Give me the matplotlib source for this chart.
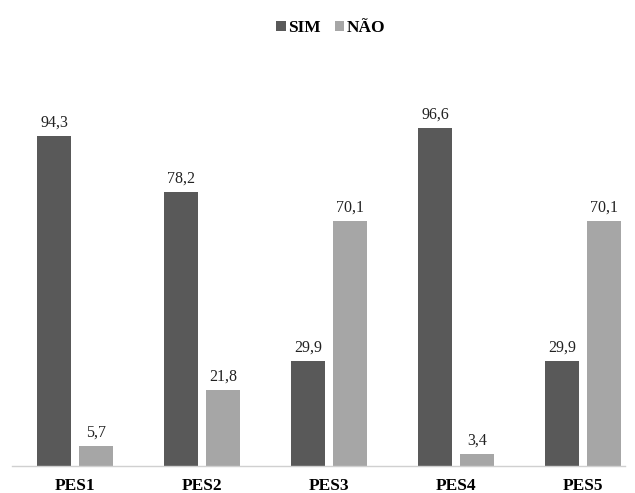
import matplotlib
matplotlib.use("Agg")
import matplotlib.pyplot as plt
import numpy as np

categories = ["PES1", "PES2", "PES3", "PES4", "PES5"]
sim = [94.3, 78.2, 29.9, 96.6, 29.9]
nao = [5.7, 21.8, 70.1, 3.4, 70.1]
sim_labels = ["94,3", "78,2", "29,9", "96,6", "29,9"]
nao_labels = ["5,7", "21,8", "70,1", "3,4", "70,1"]

plt.rcParams['font.family'] = ['Liberation Serif', 'DejaVu Serif']

fig = plt.figure(figsize=(6.35, 4.93), dpi=100)
left_px, right_px = 11.5, 625
ax = fig.add_axes([left_px/635, 1 - 466/493, (right_px-left_px)/635, 350/493])

x = np.arange(len(categories))
w = 0.268
off = 0.165
dark = "#595959"
light = "#a6a6a6"
b1 = ax.bar(x - off, sim, width=w, color=dark, label="SIM")
b2 = ax.bar(x + off, nao, width=w, color=light, label="NÃO")

for xi, v, t in zip(x, sim, sim_labels):
    ax.text(xi - off, v + 1.5, t, ha="center", va="bottom", fontsize=11.5, color="#222222")
for xi, v, t in zip(x, nao, nao_labels):
    ax.text(xi + off, v + 1.5, t, ha="center", va="bottom", fontsize=11.5, color="#222222")

ax.set_xlim(-0.5, -0.5 + (right_px - left_px) / 127)
ax.set_ylim(0, 100)
ax.set_yticks([])
ax.set_xticks(x)
ax.set_xticklabels(categories, fontweight="bold", fontsize=12.5)
ax.tick_params(axis="x", length=0, pad=9)
for s in ["top", "right", "left"]:
    ax.spines[s].set_visible(False)
ax.spines["bottom"].set_color("#d0d0d0")
ax.spines["bottom"].set_linewidth(1.0)

fig.legend(handles=[b1, b2], labels=["SIM", "NÃO"], loc="center", bbox_to_anchor=(331/635, 1 - 28/493),
           ncol=2, frameon=False, prop={"weight": "bold", "size": 12.5},
           handlelength=0.55, handleheight=0.55, handletextpad=0.15, columnspacing=0.8)

fig.savefig("out.png", dpi=100)
